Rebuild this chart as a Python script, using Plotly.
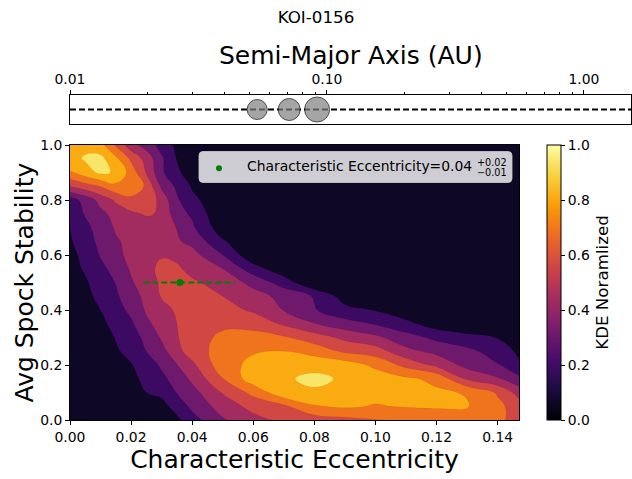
import plotly.graph_objects as go

# ---------------- data ----------------
title_text = "KOI-0156"

# KDE grid (normalised), rows = stability values, columns = eccentricity values
ecc_grid = [0.0, 0.005, 0.01, 0.015, 0.02, 0.025, 0.03, 0.035, 0.04, 0.05,
            0.06, 0.07, 0.08, 0.09, 0.10, 0.11, 0.12, 0.13, 0.14, 0.147]
stab_grid = [0.0, 0.05, 0.10, 0.15, 0.20, 0.25, 0.30, 0.35, 0.40, 0.45, 0.50,
             0.55, 0.60, 0.65, 0.70, 0.75, 0.80, 0.85, 0.90, 0.95, 1.00]
kde_rows = [
    [0, 0, .001, .003, .008, .02, .04, .1, .2, .36, .46, .53, .56, .59, .62, .635, .645, .65, .64, .6],
    [0, .001, .003, .008, .02, .04, .09, .17, .28, .43, .54, .6, .74, .77, .74, .76, .77, .76, .66, .56],
    [.001, .003, .008, .02, .04, .125, .15, .255, .33, .51, .66, .84, .86, .84, .8, .79, .77, .74, .61, .45],
    [.002, .005, .015, .04, .1, .15, .22, .3, .4, .62, .82, .86, .9, .86, .82, .77, .72, .48, .39, .28],
    [.003, .01, .03, .06, .12, .18, .27, .37, .47, .7, .78, .82, .84, .82, .72, .59, .47, .334, .26, .14],
    [.005, .02, .05, .115, .15, .25, .33, .46, .56, .68, .74, .75, .7, .6, .56, .41, .34, .28, .2, .1],
    [.01, .04, .08, .13, .2, .28, .39, .49, .57, .65, .67, .64, .56, .47, .4, .3, .22, .17, .12, .08],
    [.015, .05, .1, .16, .23, .35, .42, .5, .56, .6, .58, .48, .38, .3, .24, .16, .06, .01, .005, .005],
    [.02, .07, .125, .2, .28, .39, .45, .52, .56, .55, .48, .37, .26, .16, .12, .04, .01, .005, .005, .005],
    [.03, .09, .16, .23, .32, .41, .51, .56, .57, .5, .42, .34, .24, .07, .01, .005, .005, .005, .005, .005],
    [.05, .11, .18, .255, .36, .44, .52, .54, .52, .45, .338, .19, .01, .005, .005, .005, .005, .005, .005, .005],
    [.08, .14, .22, .29, .39, .46, .53, .52, .46, .375, .18, .04, .01, .005, .005, .005, .005, .005, .005, .005],
    [.09, .16, .26, .34, .41, .46, .49, .47, .42, .25, .03, .005, .005, .005, .005, .005, .005, .005, .005, .005],
    [.11, .2, .28, .36, .41, .43, .43, .39, .34, .14, .02, .005, .005, .005, .005, .005, .005, .005, .005, .005],
    [.125, .22, .3, .39, .44, .45, .44, .37, .27, .05, .01, .003, .003, .003, .003, .003, .003, .003, .003, .003],
    [.17, .26, .34, .42, .48, .51, .49, .29, .233, .01, .005, .002, .002, .002, .002, .002, .002, .002, .002, .002],
    [.2, .29, .42, .52, .58, .6, .45, .27, .15, .05, .015, .005, .005, .005, .005, .005, .005, .005, .005, .005],
    [.5, .57, .63, .72, .74, .6, .35, .225, .114, .03, .01, .005, .005, .005, .005, .005, .005, .005, .005, .005],
    [.74, .82, .9, .86, .7, .49, .27, .15, .06, .02, .01, .005, .005, .005, .005, .005, .005, .005, .005, .005],
    [.83, .89, .91, .78, .6, .45, .27, .12, .06, .03, .015, .005, .005, .005, .005, .005, .005, .005, .005, .005],
    [.8, .84, .79, .6, .42, .32, .2, .1, .05, .02, .01, .005, .005, .005, .005, .005, .005, .005, .005, .005],
]

# inferno colours of the 8 filled bands
band_colors = ["#0e0725", "#3c0a62", "#6f196d", "#a22c60",
               "#d14744", "#f0731d", "#fbab12", "#f8e669"]

# characteristic eccentricity point
char_ecc = 0.036
ecc_err_lo = 0.012
ecc_err_hi = 0.018
avg_stability = 0.5
legend_main = "Characteristic Eccentricity=0.04"
legend_sup = "+0.02"
legend_sub = "\u22120.01"

# planets (semi-major axes, AU) and marker diameters
planet_a = [0.0535, 0.0713, 0.0915]
planet_size = [20, 22, 25]

x_ticks = [0.00, 0.02, 0.04, 0.06, 0.08, 0.10, 0.12, 0.14]
y_ticks = [0.0, 0.2, 0.4, 0.6, 0.8, 1.0]
cb_ticks = [0.0, 0.2, 0.4, 0.6, 0.8, 1.0]
a_major = [0.01, 0.1, 1.0]
a_minor = [0.02, 0.03, 0.04, 0.05, 0.06, 0.07, 0.08, 0.09,
           0.2, 0.3, 0.4, 0.5, 0.6, 0.7, 0.8, 0.9]

# ---------------- figure ----------------
W, H = 632, 479
ML, MR, MT, MB = 70, 1, 95, 59
PW, PH = W - ML - MR, H - MT - MB


def px_x(px):
    return (px - ML) / PW


def px_y(py):
    return (H - MB - py) / PH


FONT = "DejaVu Sans"
TICK_FS = 13.9
LABEL_FS = 25

n_bands = len(band_colors)
colorscale = [[k / (n_bands - 1), c] for k, c in enumerate(band_colors)]

fig = go.Figure()

fig.add_trace(go.Contour(
    x=ecc_grid, y=stab_grid, z=kde_rows,
    xaxis="x", yaxis="y",
    colorscale=colorscale, showscale=False,
    contours=dict(start=0.125, end=0.875, size=0.125, coloring="fill"),
    line=dict(width=0.4, color="rgba(0,0,0,0.12)", smoothing=1.3),
    hoverinfo="skip",
))

# error bar (dashed) + point
fig.add_trace(go.Scatter(
    x=[char_ecc - ecc_err_lo, char_ecc + ecc_err_hi],
    y=[avg_stability, avg_stability],
    mode="lines", line=dict(color="green", width=2, dash="6px,3px"),
    xaxis="x", yaxis="y", showlegend=False, hoverinfo="skip",
))
fig.add_trace(go.Scatter(
    x=[char_ecc], y=[avg_stability], mode="markers",
    marker=dict(color="green", size=7),
    xaxis="x", yaxis="y", showlegend=False,
))

# dummy trace carrying the continuous colorbar
fig.add_trace(go.Scatter(
    x=[char_ecc], y=[avg_stability], mode="markers",
    marker=dict(size=0.1, opacity=0, color=[0.5], colorscale="Inferno",
                cmin=0, cmax=1, showscale=True,
                colorbar=dict(
                    x=px_x(547), xanchor="left", xpad=0, ypad=0,
                    y=0, yanchor="bottom", len=275 / PH, lenmode="fraction",
                    thickness=14, outlinewidth=1, outlinecolor="black",
                    tickvals=cb_ticks, ticktext=[f"{v:.1f}" for v in cb_ticks],
                    ticks="outside", ticklen=4, tickcolor="black",
                    tickfont=dict(family=FONT, size=TICK_FS, color="black"),
                    title=dict(text="KDE Noramlized", side="right",
                               font=dict(family=FONT, size=16.7, color="black")),
                )),
    xaxis="x", yaxis="y", showlegend=False, hoverinfo="skip",
))

# planets in the top panel
fig.add_trace(go.Scatter(
    x=planet_a, y=[0] * len(planet_a), mode="markers",
    marker=dict(size=planet_size, color="#808080",
                line=dict(color="black", width=1)),
    xaxis="x2", yaxis="y2", showlegend=False,
))

shapes = [
    dict(type="line", xref="x2 domain", yref="y2", x0=0, x1=1, y0=0, y1=0,
         line=dict(color="black", width=1.8, dash="6px,3px"), layer="below"),
]

# legend box (rounded) in paper coordinates
bx0, bx1 = px_x(199), px_x(512)
by0, by1 = px_y(182.5), px_y(151.5)
rx, ry = 4 / PW, 4 / PH
path = (f"M {bx0+rx},{by1} L {bx1-rx},{by1} Q {bx1},{by1} {bx1},{by1-ry} "
        f"L {bx1},{by0+ry} Q {bx1},{by0} {bx1-rx},{by0} "
        f"L {bx0+rx},{by0} Q {bx0},{by0} {bx0},{by0+ry} "
        f"L {bx0},{by1-ry} Q {bx0},{by1} {bx0+rx},{by1} Z")
shapes.append(dict(type="path", xref="paper", yref="paper", path=path,
                   fillcolor="rgba(255,255,255,0.8)",
                   line=dict(color="rgba(204,204,204,0.8)", width=1), layer="above"))
shapes.append(dict(type="circle", xref="paper", yref="paper",
                   x0=px_x(216), x1=px_x(222), y0=px_y(171.3), y1=px_y(165.3),
                   fillcolor="green", line=dict(width=0), layer="above"))

annotations = [
    dict(text=legend_main, xref="paper", yref="paper", x=px_x(245), y=px_y(166),
         xanchor="left", yanchor="middle", showarrow=False,
         font=dict(family=FONT, size=TICK_FS, color="black")),
    dict(text=legend_sup, xref="paper", yref="paper", x=px_x(475), y=px_y(162.5),
         xanchor="left", yanchor="middle", showarrow=False,
         font=dict(family=FONT, size=9.7, color="black")),
    dict(text=legend_sub, xref="paper", yref="paper", x=px_x(475), y=px_y(172),
         xanchor="left", yanchor="middle", showarrow=False,
         font=dict(family=FONT, size=9.7, color="black")),
    # axis titles placed like the reference
    dict(text="Avg Spock Stability", xref="paper", yref="paper",
         x=px_x(24), y=px_y(282.5), xanchor="center", yanchor="middle",
         textangle=-90, showarrow=False,
         font=dict(family=FONT, size=LABEL_FS, color="black")),
    dict(text="Semi-Major Axis (AU)", xref="paper", yref="paper",
         x=0.5, y=px_y(55), xanchor="center", yanchor="middle", showarrow=False,
         font=dict(family=FONT, size=LABEL_FS, color="black")),
]

axis_common = dict(showline=True, linecolor="black", linewidth=1, mirror=True,
                   ticks="outside", ticklen=4, tickwidth=1, tickcolor="black",
                   showgrid=False, zeroline=False,
                   tickfont=dict(family=FONT, size=TICK_FS, color="black"))

fig.update_layout(
    width=W, height=H,
    margin=dict(l=ML, r=MR, t=MT, b=MB),
    paper_bgcolor="white", plot_bgcolor="white",
    font=dict(family=FONT, color="black"),
    showlegend=False,
    title=dict(text=title_text, x=0.5, xanchor="center", xref="container",
               y=1 - 17 / H, yanchor="middle", yref="container",
               font=dict(family=FONT, size=16.7, color="black")),
    xaxis=dict(domain=[0, px_x(519)], range=[0, ecc_grid[-1]], anchor="y",
               tickvals=x_ticks, ticktext=[f"{v:.2f}" for v in x_ticks],
               title=dict(text="Characteristic Eccentricity", standoff=6,
                          font=dict(family=FONT, size=LABEL_FS, color="black")),
               **axis_common),
    yaxis=dict(domain=[0, px_y(145)], range=[0, 1], anchor="x",
               tickvals=y_ticks, ticktext=[f"{v:.1f}" for v in y_ticks],
               **axis_common),
    xaxis2=dict(domain=[0, 1], type="log", range=[-2, 0.183], anchor="y2",
                side="top", showline=True, linecolor="black", linewidth=1,
                mirror=True, ticks="outside", ticklen=4, tickwidth=1,
                tickcolor="black", showgrid=False, zeroline=False,
                tickvals=a_major, ticktext=[f"{v:.2f}" for v in a_major],
                tickfont=dict(family=FONT, size=TICK_FS, color="black"),
                minor=dict(tickvals=a_minor, ticks="outside", ticklen=2,
                           tickwidth=0.8, tickcolor="black", showgrid=False)),
    yaxis2=dict(domain=[px_y(124), 1], range=[-1, 1], anchor="x2",
                showline=True, linecolor="black", linewidth=1, mirror=True,
                showticklabels=False, ticks="", showgrid=False, zeroline=False),
    shapes=shapes,
    annotations=annotations,
)

fig.write_html("out.html")
